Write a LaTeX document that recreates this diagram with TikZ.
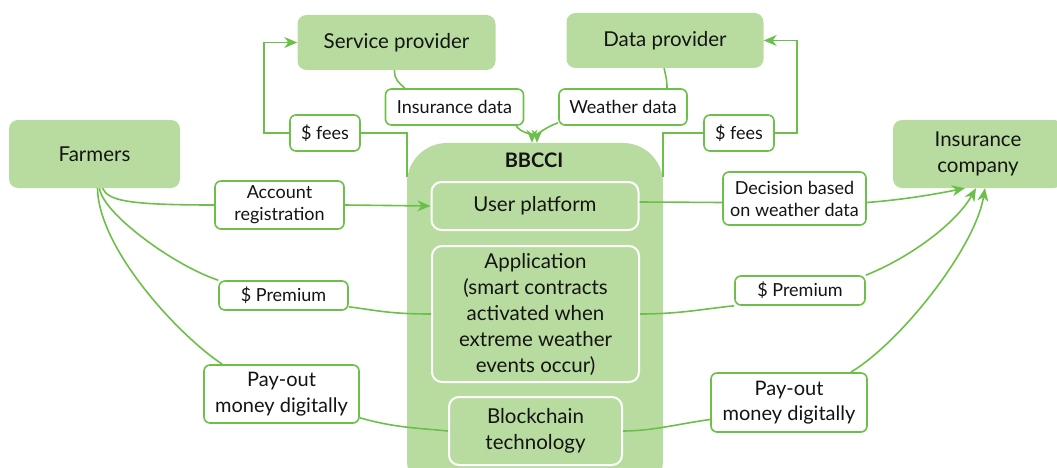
\documentclass[tikz,border=0pt]{standalone}
\usepackage{fontspec}
\setmainfont{Lato}
\usetikzlibrary{arrows.meta}
\definecolor{leaf}{RGB}{184,220,160}
\definecolor{grass}{RGB}{108,192,74}
\definecolor{ink}{RGB}{20,20,20}
\newcommand\boxtxt{\fontsize{20.5}{26}\selectfont}
\newcommand\lbltxt{\fontsize{18}{22}\selectfont}
\newcommand\paytxt{\fontsize{20}{25.5}\selectfont}
\tikzset{
  party/.style={fill=leaf,rounded corners=9pt,align=center,font=\boxtxt,text=ink,inner sep=0pt},
  part/.style={fill=leaf,draw=white,line width=2pt,rounded corners=10pt,align=center,
    font=\boxtxt,text=ink,inner sep=0pt},
  tagbox/.style={draw=grass,fill=white,line width=1.6pt,rounded corners=6pt,align=center,
    font=\lbltxt,text=ink,inner sep=0pt},
  link/.style={draw=grass,line width=1.6pt},
  flow/.style={link,-{Stealth[length=13pt,width=11pt,inset=4pt]}},
}

\begin{document}
\begin{tikzpicture}[x=1pt,y=-1pt]
  \useasboundingbox (0,0) rectangle (1057,468);
  % parties
  \node[party,minimum width=171pt,minimum height=68pt] (farmers) at (94.5,154) {Farmers};
  \node[party,minimum width=198pt,minimum height=55pt] (service) at (396.5,42.5) {Service provider};
  \node[party,minimum width=197pt,minimum height=55pt] (dataprov) at (665,40.5) {Data provider};
  \node[party,minimum width=170pt,minimum height=68pt] (insco) at (978,154) {Insurance\\company};
  % platform
  \node[fill=leaf,rounded corners=40pt,minimum width=256pt,minimum height=357pt] (bbcci) at (535,321.5) {};
  \node[font=\fontsize{20}{24}\selectfont\bfseries,text=ink] (title) at (534,160) {BBCCI};
  \node[part,minimum width=207pt,minimum height=48pt] (user) at (535,206) {User platform};
  \node[part,minimum width=207pt,minimum height=136pt] (app) at (535.5,314)
    {Application\\(smart contracts\\activated when\\extreme weather\\events occur)};
  \node[part,minimum width=173pt,minimum height=68pt] (chain) at (535.5,431) {Blockchain\\technology};
  % labels on the links
  \node[tagbox,minimum width=138pt,minimum height=36pt] (insdata) at (454.5,107) {Insurance data};
  \node[tagbox,minimum width=128pt,minimum height=36pt] (wdata) at (623,107) {Weather data};
  \node[tagbox,minimum width=70pt,minimum height=36pt] (feesL) at (325,133) {\$ fees};
  \node[tagbox,minimum width=70pt,minimum height=36pt] (feesR) at (739,133) {\$ fees};
  \node[tagbox,minimum width=129pt,minimum height=48pt] (acct) at (279.5,205) {Account\\registration};
  \node[tagbox,minimum width=129pt,minimum height=29pt] (premL) at (283.5,295.5) {\$ Premium};
  \node[tagbox,font=\paytxt,minimum width=155pt,minimum height=58pt] (payL) at (281.5,394) {Pay-out\\money digitally};
  \node[tagbox,minimum width=143pt,minimum height=53pt] (decide) at (794.5,198.5) {Decision based\\on weather data};
  \node[tagbox,minimum width=130pt,minimum height=29pt] (premR) at (800,290.5) {\$ Premium};
  \node[tagbox,font=\paytxt,minimum width=156pt,minimum height=59pt] (payR) at (789,402.5) {Pay-out\\money digitally};

  % data into the platform
  \draw[link] ([xshift=-2pt]service.south) .. controls +(0,10) and +(-6,-6) .. ([xshift=20pt]insdata.north west);
  \draw[flow] ([xshift=-8pt]insdata.south east) .. controls +(3,6) and +(0,-8) .. ([xshift=-3pt]bbcci.north);
  \draw[link] ([xshift=-1pt]dataprov.south) .. controls +(2,8) and +(0,-8) .. ([xshift=44pt]wdata.north);
  \draw[flow] ([yshift=3pt]wdata.south west) .. controls +(-12,4) and +(0,-8) .. ([xshift=2pt]bbcci.north);
  % fees
  \draw[flow] (feesL.west) -- ++(-25,0) |- (service.west);
  \draw[link] (feesL.east) -| ([yshift=-34pt]bbcci.north west);
  \draw[flow] (feesR.east) -- ++(22,0) |- (dataprov.east);
  \draw[link] (feesR.west) -| ([yshift=-34pt]bbcci.north east);
  % farmers side
  \draw[link] ([xshift=8pt]farmers.south) .. controls +(6,12) and +(-90,0) .. (acct.west);
  \draw[flow] (acct.east) -- (user.west);
  \draw[link] ([xshift=5pt]farmers.south) .. controls +(3,25) and +(-45,-15) .. (premL.north west);
  \draw[link] ([yshift=4pt]premL.south east) .. controls +(30,4) and +(-40,0) .. (app.west);
  \draw[link] ([xshift=3pt]farmers.south) .. controls +(1,60) and +(-45,-30) .. ([xshift=19pt]payL.north west);
  \draw[link] ([yshift=6pt]payL.south east) .. controls +(35,10) and +(-30,-3) .. (chain.west);
  % insurer side
  \draw[link] ([yshift=4pt]user.east) -- ([yshift=-4pt]decide.west);
  \draw[flow] ([yshift=-4pt]decide.east) .. controls +(40,-3) and +(-25,5) .. ([xshift=-13pt]insco.south);
  \draw[link] (app.east) .. controls +(40,0) and +(-30,3) .. (premR.south west);
  \draw[flow] (premR.north east) .. controls +(45,-18) and +(-20,35) .. ([xshift=-2pt]insco.south);
  \draw[link] (chain.east) .. controls +(30,0) and +(-30,4) .. ([yshift=-17pt]payR.west);
  \draw[flow] ([xshift=-17pt]payR.north east) .. controls +(50,-30) and +(-10,60) .. ([xshift=7pt]insco.south);
\end{tikzpicture}
\end{document}
